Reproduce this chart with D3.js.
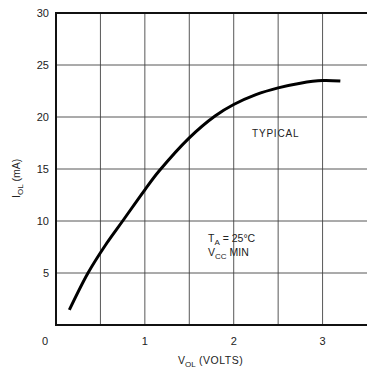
<!DOCTYPE html>
<html><head><meta charset="utf-8">
<script src="https://cdn.jsdelivr.net/npm/d3@7"></script>
<style>body{margin:0;background:#fff;} text{font-family:"Liberation Sans",Arial,sans-serif;fill:#222;}</style>
</head><body><svg id="c" width="368" height="370"></svg>
<script>
const vol = [0.15, 0.36, 0.55, 0.75, 1.0, 1.16, 1.5, 1.79, 2.0, 2.25, 2.5, 2.75, 3.0, 3.2];
const iol = [1.45, 5.0, 7.6, 10.0, 13.0, 14.8, 18.0, 20.1, 21.2, 22.15, 22.8, 23.25, 23.5, 23.45];
const xTicks = [1, 2, 3];
const yTicks = [5, 10, 15, 20, 25, 30];
const xGrid = [0.5, 1, 1.5, 2, 2.5, 3];
const yGrid = [5, 10, 15, 20, 25];

const svg = d3.select("#c");
const x = d3.scaleLinear().domain([0, 3.5]).range([56, 367]);
const y = d3.scaleLinear().domain([0, 30]).range([325, 13]);

const g = svg.append("g");
g.selectAll(".vg").data(xGrid).join("line")
  .attr("x1", d => x(d)).attr("x2", d => x(d)).attr("y1", y(30)).attr("y2", y(0))
  .attr("stroke", "#444").attr("stroke-width", 0.9);
g.selectAll(".hg").data(yGrid).join("line")
  .attr("x1", x(0)).attr("x2", x(3.5)).attr("y1", d => y(d)).attr("y2", d => y(d))
  .attr("stroke", "#444").attr("stroke-width", 0.9);

// frame
g.append("line").attr("x1", x(0)).attr("x2", x(3.5)).attr("y1", y(30)).attr("y2", y(30)).attr("stroke", "#111").attr("stroke-width", 2);
g.append("line").attr("x1", x(0)).attr("x2", x(3.5)).attr("y1", y(0)).attr("y2", y(0)).attr("stroke", "#111").attr("stroke-width", 2);
g.append("line").attr("x1", x(0)).attr("x2", x(0)).attr("y1", y(30)-1).attr("y2", y(0)+1).attr("stroke", "#111").attr("stroke-width", 2);

// ticks labels
g.selectAll(".yt").data(yTicks).join("text")
  .attr("x", 49).attr("y", d => y(d)).attr("dy", "0.35em").attr("text-anchor", "end")
  .attr("font-size", 11).text(d => d);
g.selectAll(".xt").data(xTicks).join("text")
  .attr("x", d => x(d)).attr("y", 341).attr("dy", "0.35em").attr("text-anchor", "middle")
  .attr("font-size", 11).text(d => d);
g.append("text").attr("x", 45).attr("y", 341).attr("dy", "0.35em").attr("text-anchor", "middle").attr("font-size", 11).text("0");

// curve
const line = d3.line().x((d, i) => x(vol[i])).y((d, i) => y(iol[i])).curve(d3.curveCatmullRom.alpha(0.5));
g.append("path").datum(vol).attr("d", line).attr("fill", "none").attr("stroke", "#000")
  .attr("stroke-width", 3).attr("stroke-linecap", "butt");

// annotations
g.append("text").attr("x", 252).attr("y", 133).attr("dy", "0.35em").attr("font-size", 10).attr("letter-spacing", 0.8).text("TYPICAL");
const ta = g.append("text").attr("x", 208).attr("y", 242).attr("font-size", 10.5);
ta.append("tspan").text("T");
ta.append("tspan").attr("font-size", 8).attr("dy", 3).text("A");
ta.append("tspan").attr("dy", -3).text(" = 25\u00B0C");
const vc = g.append("text").attr("x", 208).attr("y", 256).attr("font-size", 10.5);
vc.append("tspan").text("V");
vc.append("tspan").attr("font-size", 8).attr("dy", 3).text("CC");
vc.append("tspan").attr("dy", -3).text(" MIN");

// axis titles
const xl = g.append("text").attr("x", 178).attr("y", 364).attr("font-size", 10.5);
xl.append("tspan").text("V");
xl.append("tspan").attr("font-size", 8).attr("dy", 3).text("OL");
xl.append("tspan").attr("dy", -3).attr("letter-spacing", 0.5).text(" (VOLTS)");

const yl = g.append("text").attr("transform", "translate(20,198) rotate(-90)").attr("font-size", 10.5);
yl.append("tspan").text("I");
yl.append("tspan").attr("font-size", 8).attr("dy", 3).text("OL");
yl.append("tspan").attr("dy", -3).text(" (mA)");
</script></body></html>
